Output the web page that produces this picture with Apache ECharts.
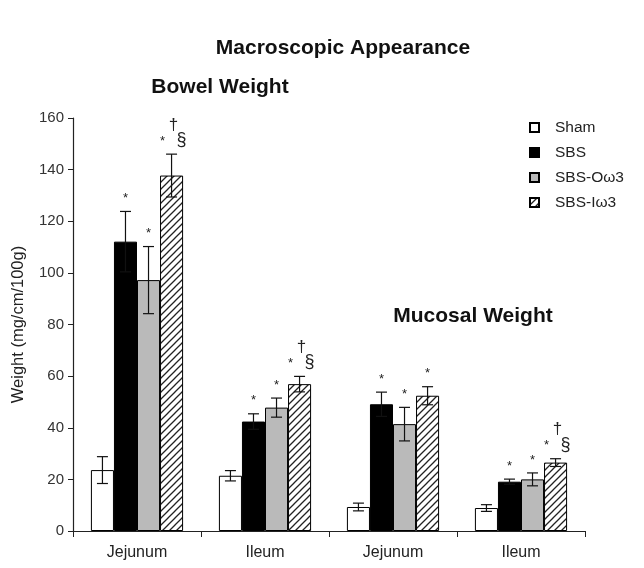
<!DOCTYPE html>
<html>
<head>
<meta charset="utf-8">
<script src="https://cdn.jsdelivr.net/npm/echarts@6/dist/echarts.min.js"></script>
<style>
  html, body { margin: 0; padding: 0; background: #fff; }
  #chart { width: 644px; height: 568px; }
</style>
</head>
<body>
<div id="chart"></div>
<script>
// Categories along the x axis: bowel weight (first two) and mucosal weight (last two)
const categories = ['Jejunum', 'Ileum', 'Jejunum', 'Ileum'];
const groups = ['Sham', 'SBS', 'SBS-Oω3', 'SBS-Iω3'];

// Means (mg/cm/100g)
const sham = [23.6, 21.4, 9.3, 8.9];
const sbs  = [112.1, 42.4, 49.1, 19.1];
const sbsO = [97.2, 47.8, 41.4, 20.0];
const sbsI = [137.7, 56.9, 52.4, 26.5];

// Error bar half-lengths
const shamErr = [5.2, 2.0, 1.5, 1.3];
const sbsErr  = [11.7, 3.0, 4.7, 1.0];
const sbsOErr = [13.0, 3.7, 6.5, 2.5];
const sbsIErr = [8.3, 3.0, 3.5, 1.5];

// Significance marks drawn above each bar
const shamMarks = ['', '', '', ''];
const sbsMarks  = ['*', '*', '*', '*'];
const sbsOMarks = ['*', '*', '*', '*'];
const sbsIMarks = ['*†§', '*†§', '*', '*†§'];

// Y axis ticks
const yTicks = [0, 20, 40, 60, 80, 100, 120, 140, 160];

const FONT = '"Liberation Sans", Arial, sans-serif';
const CAT_GAP = 0.28;

// Diagonal hatch pattern for the SBS-Iω3 bars
function hatchPattern() {
  const s = 7;
  const c = document.createElement('canvas');
  c.width = s; c.height = s;
  const g = c.getContext('2d');
  g.fillStyle = '#fff';
  g.fillRect(0, 0, s, s);
  g.strokeStyle = '#222';
  g.lineWidth = 1.3;
  g.beginPath();
  g.moveTo(-1, s + 1); g.lineTo(s + 1, -1);
  g.moveTo(-1, 1); g.lineTo(1, -1);
  g.moveTo(s - 1, s + 1); g.lineTo(s + 1, s - 1);
  g.stroke();
  return c;
}

const fills = ['#ffffff', '#000000', '#bababa', { image: hatchPattern(), repeat: 'repeat' }];
const means = [sham, sbs, sbsO, sbsI];
const errs = [shamErr, sbsErr, sbsOErr, sbsIErr];
const marks = [shamMarks, sbsMarks, sbsOMarks, sbsIMarks];

function barSeries(i) {
  return {
    type: 'bar',
    name: groups[i],
    data: means[i],
    barGap: '0%',
    barCategoryGap: (CAT_GAP * 100) + '%',
    itemStyle: { color: fills[i], borderColor: '#000', borderWidth: 1 },
    emphasis: { disabled: true },
    z: 2
  };
}

function errorSeries(i) {
  return {
    type: 'custom',
    name: groups[i] + ' err',
    z: 5,
    silent: true,
    data: means[i].map((v, k) => [k, v, errs[i][k]]),
    encode: { x: 0, y: 1 },
    renderItem: function (params, api) {
      const ci = api.value(0), v = api.value(1), e = api.value(2);
      const center = api.coord([ci, 0])[0];
      const band = api.size([1, 0])[0];
      const bw = band * (1 - CAT_GAP) / 4;
      const x = center - 2 * bw + bw * (i + 0.5);
      const top = api.coord([ci, v + e])[1];
      const bot = api.coord([ci, v - e])[1];
      const cap = 5.5;
      const ls = { stroke: '#111', lineWidth: 1.2 };
      const children = [
        { type: 'line', shape: { x1: x, y1: top, x2: x, y2: bot }, style: ls },
        { type: 'line', shape: { x1: x - cap, y1: top, x2: x + cap, y2: top }, style: ls },
        { type: 'line', shape: { x1: x - cap, y1: bot, x2: x + cap, y2: bot }, style: ls }
      ];
      const m = marks[i][params.dataIndex];
      const star = { fill: '#222', font: '13px ' + FONT, align: 'center', verticalAlign: 'middle' };
      if (m === '*') {
        children.push({ type: 'text', x: x, y: top - 13, style: Object.assign({ text: '*' }, star) });
      } else if (m === '*†§') {
        children.push({ type: 'text', x: x - 9, y: top - 13, style: Object.assign({ text: '*' }, star) });
        children.push({ type: 'text', x: x + 2, y: top - 29, style: { text: '†', fill: '#222', font: '17px ' + FONT, align: 'center', verticalAlign: 'middle' } });
        children.push({ type: 'text', x: x + 10, y: top - 14, style: { text: '§', fill: '#222', font: '18px ' + FONT, align: 'center', verticalAlign: 'middle' } });
      }
      return { type: 'group', children: children };
    }
  };
}

const chart = echarts.init(document.getElementById('chart'), null, { renderer: 'canvas' });

chart.setOption({
  animation: false,
  backgroundColor: '#fff',
  textStyle: { fontFamily: FONT },
  grid: { left: 73, right: 59, top: 118, bottom: 37, containLabel: false },
  graphic: [
    { type: 'text', x: 343, y: 48, style: { text: 'Macroscopic Appearance', font: 'bold 21px ' + FONT, fill: '#111', align: 'center', verticalAlign: 'middle' } },
    { type: 'text', x: 220, y: 87, style: { text: 'Bowel Weight', font: 'bold 21px ' + FONT, fill: '#111', align: 'center', verticalAlign: 'middle' } },
    { type: 'text', x: 473, y: 316, style: { text: 'Mucosal Weight', font: 'bold 21px ' + FONT, fill: '#111', align: 'center', verticalAlign: 'middle' } }
  ],
  legend: {
    data: groups,
    orient: 'vertical',
    left: 524,
    top: 114,
    itemWidth: 9,
    itemHeight: 9,
    itemGap: 8,
    icon: 'rect',
    selectedMode: false,
    textStyle: { fontSize: 15.5, color: '#222', fontFamily: FONT, padding: [0, 0, 0, 11], lineHeight: 17 }
  },
  xAxis: {
    type: 'category',
    data: categories,
    boundaryGap: true,
    axisLine: { lineStyle: { color: '#222', width: 1.2 } },
    axisTick: { show: true, alignWithLabel: false, length: 6, lineStyle: { color: '#222' } },
    axisLabel: { fontSize: 16, color: '#222', margin: 14, interval: 0 },
    splitLine: { show: false }
  },
  yAxis: {
    type: 'value',
    min: yTicks[0],
    max: yTicks[yTicks.length - 1],
    interval: yTicks[1] - yTicks[0],
    name: 'Weight (mg/cm/100g)',
    nameLocation: 'middle',
    nameGap: 46,
    nameTextStyle: { fontSize: 16.5, color: '#222' },
    axisLine: { show: true, lineStyle: { color: '#222', width: 1.2 } },
    axisTick: { show: true, length: 5, lineStyle: { color: '#222' } },
    axisLabel: { fontSize: 15, color: '#333', margin: 9 },
    splitLine: { show: false }
  },
  series: [0, 1, 2, 3].map(barSeries).concat([0, 1, 2, 3].map(errorSeries))
});
</script>
</body>
</html>
